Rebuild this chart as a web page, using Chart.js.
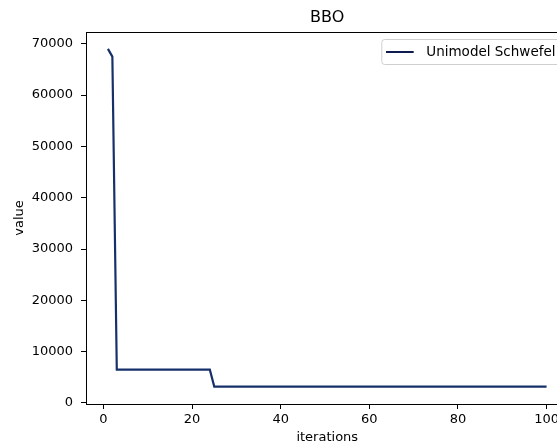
<!DOCTYPE html>
<html>
<head>
    <style>
        html, body {
            margin: 0;
            padding: 0;
            width: 557px;
            height: 443px;
            overflow: hidden;
            background: #ffffff;
        }
        #container {
            width: 600px;
            height: 443px;
        }
    </style>
    <script src="https://cdn.jsdelivr.net/npm/chart.js"></script>
</head>
<body>
    <div id="container">
        <canvas id="bboChart" width="600" height="443"></canvas>
    </div>

    <script>
        // data (only the break points of the curve)
        const iterations = [1, 2, 3, 24, 25, 100];
        const values = [69000, 67500, 6500, 6500, 3200, 3200];
        const seriesName = "Unimodel Schwefel";
        const chartTitle = "BBO";
        const xTicks = [0, 20, 40, 60, 80, 100];
        const yTicks = [0, 10000, 20000, 30000, 40000, 50000, 60000, 70000];

        const fontFamily = '"DejaVu Sans", sans-serif';
        Chart.defaults.font.family = fontFamily;
        Chart.defaults.font.size = 13;
        Chart.defaults.color = "#000";

        // title over the plot area, top and right spines, boxed legend
        const frameAndLegend = {
            id: "frameAndLegend",
            afterDraw(chart) {
                const { ctx, chartArea } = chart;
                ctx.save();

                ctx.strokeStyle = "#000";
                ctx.lineWidth = 1;
                ctx.beginPath();
                ctx.moveTo(chartArea.left, chartArea.top + 0.5);
                ctx.lineTo(chartArea.right, chartArea.top + 0.5);
                ctx.lineTo(chartArea.right, chartArea.bottom);
                ctx.stroke();

                ctx.font = "16px " + fontFamily;
                ctx.fillStyle = "#000";
                ctx.textAlign = "center";
                ctx.textBaseline = "middle";
                ctx.fillText(chartTitle, (chartArea.left + chartArea.right) / 2, 18);

                const ds = chart.data.datasets[0];
                ctx.font = "13.5px " + fontFamily;
                const textW = ctx.measureText(ds.label).width;
                const boxW = 4.7 + 27.7 + 12.6 + textW + 6;
                const boxH = 25;
                const boxR = chartArea.right - 7;
                const boxL = boxR - boxW;
                const boxT = chartArea.top + 7;
                ctx.beginPath();
                ctx.roundRect(boxL + 0.5, boxT + 0.5, boxW, boxH, 3);
                ctx.fillStyle = "rgba(255,255,255,0.8)";
                ctx.fill();
                ctx.strokeStyle = "#cfcfcf";
                ctx.stroke();

                const cy = boxT + boxH / 2 + 0.5;
                ctx.strokeStyle = "#0e1a52";
                ctx.lineWidth = 2;
                ctx.beginPath();
                ctx.moveTo(boxL + 4.7, cy);
                ctx.lineTo(boxL + 4.7 + 27.7, cy);
                ctx.stroke();

                ctx.fillStyle = "#000";
                ctx.textAlign = "left";
                ctx.fillText(ds.label, boxL + 4.7 + 27.7 + 12.6, cy);
                ctx.restore();
            }
        };

        const ctx = document.getElementById("bboChart").getContext("2d");
        const bboChart = new Chart(ctx, {
            type: "line",
            data: {
                datasets: [{
                    label: seriesName,
                    data: iterations.map((it, i) => ({ x: it, y: values[i] })),
                    borderColor: "#17306a",
                    borderWidth: 2.2,
                    pointRadius: 0,
                    tension: 0,
                    fill: false
                }]
            },
            options: {
                responsive: false,
                animation: false,
                layout: {
                    padding: { top: 32, right: 31.5, left: 0, bottom: 0 }
                },
                plugins: {
                    legend: { display: false },
                    title: { display: false },
                    tooltip: { enabled: false }
                },
                scales: {
                    x: {
                        type: "linear",
                        min: -3.95,
                        max: 104.95,
                        afterBuildTicks: (scale) => {
                            scale.ticks = xTicks.map(v => ({ value: v }));
                        },
                        afterFit: (scale) => { scale.height = 39; },
                        ticks: {
                            includeBounds: false,
                            padding: 3,
                            maxRotation: 0,
                            font: { size: 13 }
                        },
                        grid: {
                            drawOnChartArea: false,
                            drawTicks: true,
                            tickLength: 5,
                            color: "#000"
                        },
                        border: { display: true, color: "#000", width: 1 },
                        title: {
                            display: true,
                            text: "iterations",
                            font: { size: 13 },
                            padding: { top: 0, bottom: -2 }
                        }
                    },
                    y: {
                        type: "linear",
                        min: -195,
                        max: 72295,
                        afterBuildTicks: (scale) => {
                            scale.ticks = yTicks.map(v => ({ value: v }));
                        },
                        afterFit: (scale) => { scale.width = 86; },
                        ticks: {
                            includeBounds: false,
                            padding: 8,
                            callback: (v) => String(v),
                            font: { size: 13 }
                        },
                        grid: {
                            drawOnChartArea: false,
                            drawTicks: true,
                            tickLength: 5,
                            color: "#000"
                        },
                        border: { display: true, color: "#000", width: 1 },
                        title: {
                            display: true,
                            text: "value",
                            font: { size: 13 },
                            padding: { top: 12, bottom: 0 }
                        }
                    }
                }
            },
            plugins: [frameAndLegend]
        });
    </script>
</body>
</html>
